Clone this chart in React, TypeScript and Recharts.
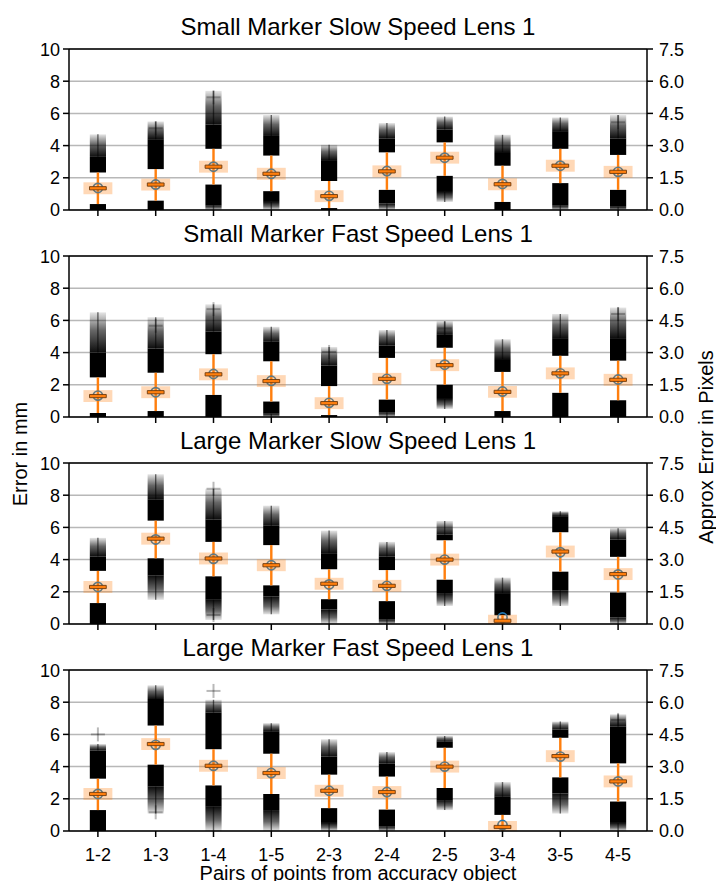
import React from 'react'
import {
  CartesianGrid,
  ComposedChart,
  ReferenceArea,
  ReferenceLine,
  Scatter,
  XAxis,
  YAxis,
} from 'recharts'

// pairs of accuracy-object points
const categories = ['1-2', '1-3', '1-4', '1-5', '2-3', '2-4', '2-5', '3-4', '3-5', '4-5']
const leftTicks = [0, 2, 4, 6, 8, 10]
const rightTicks = [0, 1.5, 3, 4.5, 6, 7.5]

// upper cluster: [bottom, top of dense part, faded tail top]
// lower cluster: [faded tail bottom, bottom of dense part, top]
const smallSlowMean = [1.37, 1.58, 2.69, 2.25, 0.88, 2.42, 3.25, 1.62, 2.75, 2.37]
const smallSlowMedian = [1.35, 1.58, 2.69, 2.25, 0.86, 2.4, 3.25, 1.6, 2.75, 2.37]
const smallSlowUpper = [
  [2.33, 3.3, 4.7], [2.54, 4.4, 5.5], [3.8, 5.3, 7.4], [3.38, 4.6, 5.9], [1.8, 3.1, 4.05],
  [3.58, 4.45, 5.4], [4.2, 5.0, 5.8], [2.75, 3.6, 4.67], [3.8, 4.9, 5.75], [3.42, 4.45, 5.9],
]
const smallSlowLower = [
  [0, 0, 0.37], [0, 0, 0.58], [0, 0.3, 1.58], [0, 0.5, 1.17], [0, 0, 0.12],
  [0, 0.4, 1.25], [0.5, 1.12, 2.12], [0, 0, 0.5], [0, 0.3, 1.67], [0, 0.2, 1.25],
]
const smallSlowOutliers = [[1, 5.08], [2, 7.0], [9, 5.45]]

const smallFastMean = [1.33, 1.54, 2.67, 2.25, 0.88, 2.37, 3.25, 1.58, 2.71, 2.33]
const smallFastMedian = [1.3, 1.54, 2.65, 2.23, 0.86, 2.37, 3.22, 1.56, 2.71, 2.31]
const smallFastUpper = [
  [2.46, 4.0, 6.5], [2.75, 4.25, 6.2], [3.9, 5.3, 7.0], [3.46, 4.67, 5.6], [1.92, 3.2, 4.35],
  [3.67, 4.45, 5.4], [4.3, 5.1, 5.95], [2.8, 3.6, 4.83], [3.8, 4.9, 6.4], [3.5, 4.9, 6.8],
]
const smallFastLower = [
  [0, 0, 0.25], [0, 0, 0.37], [0, 0, 1.37], [0, 0.2, 0.96], [0, 0, 0.12],
  [0, 0.3, 1.08], [0.5, 1.12, 2.0], [0, 0, 0.37], [0, 0, 1.5], [0, 0, 1.04],
]
const smallFastOutliers = [[1, 5.67], [2, 6.7], [4, 4.04], [6, 5.5], [9, 6.4]]

const largeSlowMean = [2.3, 5.25, 4.05, 3.65, 2.46, 2.37, 4.0, 0.4, 4.46, 3.08]
const largeSlowMedian = [2.3, 5.3, 4.07, 3.65, 2.5, 2.37, 4.0, 0.2, 4.5, 3.1]
const largeSlowUpper = [
  [3.3, 4.2, 5.35], [6.42, 7.75, 9.3], [5.1, 6.5, 8.4], [4.9, 6.1, 7.35], [3.4, 4.4, 5.8],
  [3.35, 4.2, 5.1], [5.2, 5.55, 6.4], [0.54, 1.92, 2.88], [5.7, 6.7, 7.0], [4.17, 5.25, 5.95],
]
const largeSlowLower = [
  [0, 0, 1.3], [1.5, 3.0, 4.08], [0.25, 1.5, 2.96], [0.6, 1.7, 2.4], [0, 0.9, 1.54],
  [0, 0.3, 1.42], [1.12, 1.92, 2.75], null, [1.12, 2.1, 3.25], [0, 0.4, 1.96],
]
const largeSlowOutliers = [[2, 0.56], [2, 8.4]]

const largeFastMean = [2.3, 5.35, 4.05, 3.6, 2.5, 2.42, 4.0, 0.37, 4.62, 3.08]
const largeFastMedian = [2.3, 5.4, 4.05, 3.6, 2.5, 2.42, 4.0, 0.25, 4.65, 3.08]
const largeFastUpper = [
  [3.25, 5.0, 5.4], [6.55, 8.2, 9.05], [5.08, 7.35, 8.15], [4.8, 6.2, 6.7], [3.5, 4.62, 5.7],
  [3.38, 4.2, 4.9], [5.17, 5.54, 5.9], [1.0, 2.12, 3.04], [5.79, 6.3, 6.8], [4.2, 6.5, 7.25],
]
const largeFastLower = [
  [0, 0, 1.3], [1.08, 2.75, 4.12], [0, 1.5, 2.83], [0, 1.3, 2.3], [0, 0.5, 1.42],
  [0, 0.3, 1.33], [1.3, 1.92, 2.67], null, [1.08, 2.33, 3.33], [0, 0.5, 1.83],
]
const largeFastOutliers = [[0, 6.0], [1, 1.16], [2, 8.7], [9, 6.9]]

const panels = [
  {title: 'Small Marker Slow Speed Lens 1', mean: smallSlowMean, median: smallSlowMedian, upper: smallSlowUpper, lower: smallSlowLower, outliers: smallSlowOutliers},
  {title: 'Small Marker Fast Speed Lens 1', mean: smallFastMean, median: smallFastMedian, upper: smallFastUpper, lower: smallFastLower, outliers: smallFastOutliers},
  {title: 'Large Marker Slow Speed Lens 1', mean: largeSlowMean, median: largeSlowMedian, upper: largeSlowUpper, lower: largeSlowLower, outliers: largeSlowOutliers},
  {title: 'Large Marker Fast Speed Lens 1', mean: largeFastMean, median: largeFastMedian, upper: largeFastUpper, lower: largeFastLower, outliers: largeFastOutliers},
]

const ORANGE = '#ff7f0e'
const BLUE = '#1f77b4'
const FONT = '"Liberation Sans", Arial, sans-serif'
const panelTops = [49, 256, 463, 670]

const CircleShape = (props: any) => {
  const {x, y, width, height} = props
  return <circle cx={x + width / 2} cy={y + height / 2} r={4.6} fill="none" stroke={BLUE} strokeWidth={1.7} />
}

const PlusShape = (props: any) => {
  const {x, y, width, height} = props
  const cx = x + width / 2
  const cy = y + height / 2
  return (
    <g stroke="#000" strokeOpacity={0.28} strokeWidth={2}>
      <line x1={cx - 7} x2={cx + 7} y1={cy} y2={cy} />
      <line x1={cx} x2={cx} y1={cy - 7} y2={cy + 7} />
    </g>
  )
}

const Panel = ({p, idx}: any) => {
  const last = idx === panels.length - 1
  const rows = categories.map((c, i) => ({pos: i + 1, mean: p.mean[i]}))
  const common: any = {yAxisId: 'left', ifOverflow: 'hidden', fillOpacity: 1, stroke: 'none'}
  const CW = 0.14
  const LW = 0.012

  const marks: any[] = []
  const whiskers: any[] = []
  const circles: any[] = []
  const shades: any[] = []
  const medians: any[] = []

  categories.forEach((c, i) => {
    const pos = i + 1
    const lw = p.lower[i]
    const up = p.upper[i]
    if (lw) {
      if (lw[0] < lw[1]) {
        marks.push(<ReferenceArea key={`lt${i}`} {...common} x1={pos - CW} x2={pos + CW} y1={lw[0]} y2={lw[1]} fill={`url(#fadeDown${idx})`} />)
        marks.push(<ReferenceArea key={`ll${i}`} {...common} x1={pos - LW} x2={pos + LW} y1={lw[0]} y2={lw[1]} fill="#000" fillOpacity={0.55} />)
      }
      if (lw[2] > lw[1]) {
        marks.push(<ReferenceArea key={`ls${i}`} {...common} x1={pos - CW} x2={pos + CW} y1={lw[1]} y2={lw[2]} fill="#000" />)
      }
    }
    marks.push(<ReferenceArea key={`us${i}`} {...common} x1={pos - CW} x2={pos + CW} y1={up[0]} y2={up[1]} fill="#000" />)
    if (up[2] > up[1]) {
      marks.push(<ReferenceArea key={`ut${i}`} {...common} x1={pos - CW} x2={pos + CW} y1={up[1]} y2={up[2]} fill={`url(#fadeUp${idx})`} />)
      marks.push(<ReferenceArea key={`ul${i}`} {...common} x1={pos - LW} x2={pos + LW} y1={up[1]} y2={up[2]} fill="#000" fillOpacity={0.55} />)
    }
    const wLo = lw ? lw[2] : 0
    whiskers.push(<ReferenceArea key={`w${i}`} {...common} x1={pos - 0.021} x2={pos + 0.021} y1={wLo} y2={up[0]} fill={ORANGE} />)
    circles.push(<ReferenceArea key={`c${i}`} {...common} x1={pos - 0.05} x2={pos + 0.05} y1={p.mean[i] - 0.05} y2={p.mean[i] + 0.05} shape={CircleShape} />)
    shades.push(<ReferenceArea key={`s${i}`} {...common} x1={pos - 0.25} x2={pos + 0.25} y1={p.median[i] - 0.37} y2={p.median[i] + 0.37} fill={ORANGE} fillOpacity={0.3} />)
    medians.push(<ReferenceArea key={`m${i}`} {...common} x1={pos - 0.145} x2={pos + 0.145} y1={p.median[i] - 0.1} y2={p.median[i] + 0.1} fill={ORANGE} stroke="#6e3a0c" strokeWidth={0.9} />)
  })
  p.outliers.forEach(([ci, v]: number[], k: number) => {
    marks.push(<ReferenceArea key={`o${k}`} {...common} x1={ci + 1 - 0.05} x2={ci + 1 + 0.05} y1={v - 0.02} y2={v + 0.02} shape={PlusShape} />)
  })

  return (
    <div style={{position: 'absolute', left: 0, top: panelTops[idx] - 10}}>
      <ComposedChart width={716} height={last ? 221 : 201} margin={{top: 10, right: 19, bottom: 0, left: 29}} data={rows}>
        <defs>
          <linearGradient id={`fadeUp${idx}`} x1="0" y1="1" x2="0" y2="0">
            <stop offset="0%" stopColor="#000" stopOpacity={0.95} />
            <stop offset="55%" stopColor="#000" stopOpacity={0.6} />
            <stop offset="100%" stopColor="#000" stopOpacity={0.1} />
          </linearGradient>
          <linearGradient id={`fadeDown${idx}`} x1="0" y1="0" x2="0" y2="1">
            <stop offset="0%" stopColor="#000" stopOpacity={0.95} />
            <stop offset="55%" stopColor="#000" stopOpacity={0.6} />
            <stop offset="100%" stopColor="#000" stopOpacity={0.1} />
          </linearGradient>
        </defs>
        <CartesianGrid yAxisId="left" vertical={false} stroke="#b8b8b8" strokeWidth={1.5} />
        <XAxis
          dataKey="pos"
          type="number"
          domain={[0.5, 10.5]}
          ticks={[1, 2, 3, 4, 5, 6, 7, 8, 9, 10]}
          interval={0}
          allowDataOverflow
          height={last ? 50 : 30}
          tickSize={6}
          tickMargin={11}
          tickFormatter={(v: number) => (last ? categories[v - 1] : '')}
          tick={{fontSize: 18, fill: '#000', fontFamily: FONT}}
          axisLine={{stroke: '#000', strokeWidth: 1.5}}
          tickLine={{stroke: '#000', strokeWidth: 1.5}}
        />
        <YAxis
          yAxisId="left"
          type="number"
          domain={[0, 10]}
          ticks={leftTicks}
          allowDataOverflow
          width={40}
          tickSize={6}
          tickMargin={3}
          tick={{fontSize: 18, fill: '#000', fontFamily: FONT}}
          axisLine={{stroke: '#000', strokeWidth: 1.5}}
          tickLine={{stroke: '#000', strokeWidth: 1.5}}
        />
        <YAxis
          yAxisId="right"
          orientation="right"
          type="number"
          domain={[0, 7.5]}
          ticks={rightTicks}
          allowDataOverflow
          width={50}
          tickSize={6}
          tickMargin={6}
          tickFormatter={(v: number) => v.toFixed(1)}
          tick={{fontSize: 18, fill: '#000', fontFamily: FONT}}
          axisLine={{stroke: '#000', strokeWidth: 1.5}}
          tickLine={{stroke: '#000', strokeWidth: 1.5}}
        />
        <Scatter yAxisId="left" dataKey="mean" shape={() => <g />} isAnimationActive={false} />
        {marks}
        {whiskers}
        {circles}
        {shades}
        {medians}
        <ReferenceLine yAxisId="left" y={10} stroke="#000" strokeWidth={1.5} />
      </ComposedChart>
    </div>
  )
}

const App = () => {
  return (
    <div style={{position: 'absolute', left: 0, top: 0, width: 716, height: 881, background: '#fff', fontFamily: FONT, overflow: 'hidden'}}>
      {panels.map((p, i) => (
        <Panel key={i} p={p} idx={i} />
      ))}
      {panels.map((p, i) => (
        <div
          key={`t${i}`}
          style={{position: 'absolute', left: 0, width: 716, top: panelTops[i] - 34, textAlign: 'center', fontSize: 24, lineHeight: '24px', color: '#000'}}
        >
          {p.title}
        </div>
      ))}
      <div style={{position: 'absolute', left: -80, top: 442, width: 200, height: 24, lineHeight: '24px', fontSize: 20, textAlign: 'center', transform: 'rotate(-90deg)'}}>
        Error in mm
      </div>
      <div style={{position: 'absolute', left: 556, top: 435, width: 300, height: 24, lineHeight: '24px', fontSize: 20, textAlign: 'center', transform: 'rotate(-90deg)'}}>
        Approx Error in Pixels
      </div>
      <div style={{position: 'absolute', left: 0, width: 716, top: 863, textAlign: 'center', fontSize: 20, lineHeight: '20px'}}>
        Pairs of points from accuracy object
      </div>
    </div>
  )
}

export default App
